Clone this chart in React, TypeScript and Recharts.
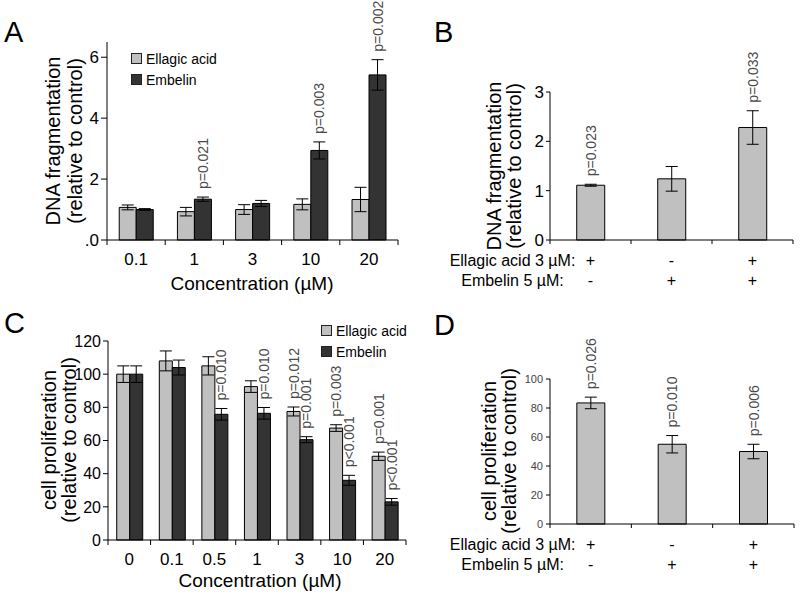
import { BarChart, Bar, XAxis, YAxis, ErrorBar, LabelList, Legend } from "recharts"

// ─── Styles ──────────────────────────────────────────────────────────────────
const FONT = "'Liberation Sans', Arial, Helvetica, sans-serif"
const ELL_FILL = "#c0c0c0"
const EMB_FILL = "#333333"
const P_COLOR = "#4a4a4a"

// ─── Panel A: DNA fragmentation vs concentration ─────────────────────────────
const concA = ["0.1", "1", "3", "10", "20"]
const fragEll = [1.07, 0.93, 1.0, 1.17, 1.33]
const fragEllErr = [0.08, 0.14, 0.16, 0.18, 0.4]
const fragEllP = [null, null, null, null, null]
const fragEmb = [1.0, 1.34, 1.2, 2.94, 5.42]
const fragEmbErr = [0.03, 0.07, 0.1, 0.28, 0.5]
const fragEmbP = [null, "p=0.021", null, "p=0.003", "p=0.002"]
const ticksA = [0, 2, 4, 6]

// ─── Panel B: DNA fragmentation, combination ─────────────────────────────────
const comboEllSign = ["+", "-", "+"]
const comboEmbSign = ["-", "+", "+"]
const fragCombo = [1.11, 1.24, 2.28]
const fragComboErr = [0.02, 0.25, 0.34]
const fragComboP = ["p=0.023", null, "p=0.033"]
const ticksB = [0, 1, 2, 3]

// ─── Panel C: proliferation vs concentration ─────────────────────────────────
const concC = ["0", "0.1", "0.5", "1", "3", "10", "20"]
const prolEll = [100, 108, 105, 92.5, 77.5, 67.5, 50.5]
const prolEllErr = [5, 6, 5.5, 3.5, 2.7, 2, 2.5]
const prolEllP = [null, null, null, null, "p=0.012", "p=0.003", "p=0.001"]
const prolEmb = [100, 104, 75.8, 76.4, 60.5, 36, 23]
const prolEmbErr = [5, 4.5, 3.5, 3.5, 1.8, 3, 2]
const prolEmbP = [null, null, "p=0.010", "p=0.010", "p=0.001", "p<0.001", "p<0.001"]
const ticksC = [0, 20, 40, 60, 80, 100, 120]

// ─── Panel D: proliferation, combination ─────────────────────────────────────
const prolCombo = [83.5, 55, 50]
const prolComboErr = [4, 6, 5]
const prolComboP = ["p=0.026", "p=0.010", "p=0.006"]
const ticksD = [0, 20, 40, 60, 80, 100]

const rowEllLabel = "Ellagic acid 3 µM:"
const rowEmbLabel = "Embelin 5 µM:"

const dataA = concA.map((c, i) => ({
  conc: c, ell: fragEll[i], ellErr: fragEllErr[i], ellP: fragEllP[i],
  emb: fragEmb[i], embErr: fragEmbErr[i], embP: fragEmbP[i],
}))
const dataC = concC.map((c, i) => ({
  conc: c, ell: prolEll[i], ellErr: prolEllErr[i], ellP: prolEllP[i],
  emb: prolEmb[i], embErr: prolEmbErr[i], embP: prolEmbP[i],
}))
const dataB = fragCombo.map((v, i) => ({ key: `b${i}`, v, err: fragComboErr[i], p: fragComboP[i] }))
const dataD = prolCombo.map((v, i) => ({ key: `d${i}`, v, err: prolComboErr[i], p: prolComboP[i] }))

// ─── p-value label above error bar, rotated ──────────────────────────────────
const pLabel = (vals: number[], errs: number[]) => (props: any) => {
  const { value, index } = props
  if (!value) return null
  const vb = props.viewBox && props.viewBox.width != null ? props.viewBox : props
  const { x, y, width, height } = vb
  const perUnit = Math.abs(height) / vals[index]
  const top = y - errs[index] * perUnit - 8
  const cx = x + width / 2 + 5
  return (
    <text x={cx} y={top} transform={`rotate(-90 ${cx} ${top})`} fontSize={14} fill={P_COLOR}>
      {value}
    </text>
  )
}

// ─── x ticks: label at centre, tick marks at category boundaries ─────────────
const catTick = (band: number, n: number) => (props: any) => {
  const { x, y, payload, index } = props
  const axisY = y - 8
  return (
    <g>
      <line x1={x - band / 2} x2={x - band / 2} y1={axisY} y2={axisY + 5} stroke="#000" />
      {index === n - 1 && <line x1={x + band / 2} x2={x + band / 2} y1={axisY} y2={axisY + 5} stroke="#000" />}
      <text x={x} y={y} dy={16.5} textAnchor="middle" fontSize={17} fill="#000">{payload.value}</text>
    </g>
  )
}

const signTick = (band: number, n: number) => (props: any) => {
  const { x, y, index } = props
  const axisY = y - 6
  return (
    <g fontSize={16} fill="#000">
      <line x1={x - band / 2} x2={x - band / 2} y1={axisY} y2={axisY + 4} stroke="#000" />
      {index === n - 1 && <line x1={x + band / 2} x2={x + band / 2} y1={axisY} y2={axisY + 4} stroke="#000" />}
      <text x={x} y={y + 20} textAnchor="middle">{comboEllSign[index]}</text>
      <text x={x} y={y + 40} textAnchor="middle">{comboEmbSign[index]}</text>
      {index === 0 && (
        <>
          <text x={x - 78} y={y + 20} textAnchor="middle">{rowEllLabel}</text>
          <text x={x - 78} y={y + 40} textAnchor="middle">{rowEmbLabel}</text>
        </>
      )}
    </g>
  )
}

const yTitle = (x1: number, cy: number, gap: number, lines: string[]) => () => (
  <text transform={`rotate(-90 ${x1} ${cy})`} x={x1} y={cy} textAnchor="middle" fontSize={20} fill="#000">
    <tspan x={x1} dy={0}>{lines[0]}</tspan>
    <tspan x={x1} dy={gap}>{lines[1]}</tspan>
  </text>
)

const xTitle = (cx: number, y: number) => () => (
  <text x={cx} y={y} textAnchor="middle" fontSize={19} fill="#000">Concentration (µM)</text>
)

function SwatchLegend(props: any) {
  const items = props.payload?.length
    ? props.payload
    : [{ value: "Ellagic acid", color: ELL_FILL }, { value: "Embelin", color: EMB_FILL }]
  return (
    <div style={{ fontSize: 14, fontFamily: FONT, color: "#000" }}>
      {items.map((it: any) => (
        <div key={it.value} style={{ display: "flex", alignItems: "center", height: 21, whiteSpace: "nowrap" }}>
          <span style={{ display: "inline-block", width: 9, height: 9, background: it.color, border: "1px solid #222", marginRight: 4 }} />
          {it.value}
        </div>
      ))}
    </div>
  )
}

const axisStroke = { stroke: "#000" }

export default function App() {
  return (
    <div style={{ position: "absolute", left: 0, top: 0, width: 800, height: 597, background: "#fff", fontFamily: FONT }}>
      {/* A */}
      <div style={{ position: "absolute", left: 0, top: 0 }}>
        <BarChart width={400} height={300} data={dataA} margin={{ top: 42, right: 2, bottom: 10, left: 0 }}
          barCategoryGap="21%" barGap={0}>
          <XAxis dataKey="conc" height={50} interval={0} tickSize={6} tickMargin={2} tickLine={false}
            axisLine={axisStroke} tick={catTick(291 / 5, 5)} label={xTitle(252, 290)} />
          <YAxis width={107} domain={[0, 6.5]} ticks={ticksA} interval={0} tickSize={6} tickMargin={2}
            tickFormatter={(v) => (v === 0 ? ".0" : String(v))}
            tick={{ fontSize: 17, fill: "#000" }} axisLine={axisStroke} tickLine={axisStroke}
            label={yTitle(60, 141, 22, ["DNA fragmentation", "(relative to control)"])} />
          <Legend content={SwatchLegend} layout="horizontal" verticalAlign="middle" align="center"
            wrapperStyle={{ left: 131, top: 48, width: "auto" }} />
          <Bar dataKey="ell" name="Ellagic acid" fill={ELL_FILL} stroke="#000" strokeWidth={1} isAnimationActive={false}>
            <ErrorBar dataKey="ellErr" width={6} stroke="#000" strokeWidth={1} direction="y" isAnimationActive={false} />
            <LabelList dataKey="ellP" content={pLabel(fragEll, fragEllErr)} />
          </Bar>
          <Bar dataKey="emb" name="Embelin" fill={EMB_FILL} stroke="#000" strokeWidth={1} isAnimationActive={false}>
            <ErrorBar dataKey="embErr" width={6} stroke="#000" strokeWidth={1} direction="y" isAnimationActive={false} />
            <LabelList dataKey="embP" content={pLabel(fragEmb, fragEmbErr)} />
          </Bar>
        </BarChart>
      </div>

      {/* B */}
      <div style={{ position: "absolute", left: 400, top: 0 }}>
        <BarChart width={400} height={300} data={dataB} margin={{ top: 92, right: 7, bottom: 10, left: 0 }}
          barCategoryGap="33%">
          <XAxis dataKey="key" height={50} interval={0} tickSize={4} tickMargin={2} tickLine={false}
            axisLine={axisStroke} tick={signTick(243 / 3, 3)} />
          <YAxis width={150} domain={[0, 3]} ticks={ticksB} interval={0} tickSize={4} tickMargin={2}
            tick={{ fontSize: 17, fill: "#000" }} axisLine={axisStroke} tickLine={axisStroke}
            label={yTitle(101, 166, 20, ["DNA fragmentation", "(relative to control)"])} />
          <Bar dataKey="v" fill={ELL_FILL} stroke="#000" strokeWidth={1} isAnimationActive={false}>
            <ErrorBar dataKey="err" width={6} stroke="#000" strokeWidth={1} direction="y" isAnimationActive={false} />
            <LabelList dataKey="p" content={pLabel(fragCombo, fragComboErr)} />
          </Bar>
        </BarChart>
      </div>

      {/* C */}
      <div style={{ position: "absolute", left: 0, top: 300 }}>
        <BarChart width={410} height={297} data={dataC} margin={{ top: 41, right: 4, bottom: 10, left: 0 }}
          barCategoryGap="20.5%" barGap={0}>
          <XAxis dataKey="conc" height={47} interval={0} tickSize={6} tickMargin={2} tickLine={false}
            axisLine={axisStroke} tick={catTick(298 / 7, 7)} label={xTitle(260, 287)} />
          <YAxis width={108} domain={[0, 120]} ticks={ticksC} interval={0} tickSize={5} tickMargin={2}
            tick={{ fontSize: 16, fill: "#000" }} axisLine={axisStroke} tickLine={axisStroke}
            label={yTitle(56, 140, 20, ["cell proliferation", "(relative to control)"])} />
          <Legend content={SwatchLegend} layout="horizontal" verticalAlign="middle" align="center"
            wrapperStyle={{ left: 321, top: 20, width: "auto" }} />
          <Bar dataKey="ell" name="Ellagic acid" fill={ELL_FILL} stroke="#000" strokeWidth={1} isAnimationActive={false}>
            <ErrorBar dataKey="ellErr" width={6} stroke="#000" strokeWidth={1} direction="y" isAnimationActive={false} />
            <LabelList dataKey="ellP" content={pLabel(prolEll, prolEllErr)} />
          </Bar>
          <Bar dataKey="emb" name="Embelin" fill={EMB_FILL} stroke="#000" strokeWidth={1} isAnimationActive={false}>
            <ErrorBar dataKey="embErr" width={6} stroke="#000" strokeWidth={1} direction="y" isAnimationActive={false} />
            <LabelList dataKey="embP" content={pLabel(prolEmb, prolEmbErr)} />
          </Bar>
        </BarChart>
      </div>

      {/* D */}
      <div style={{ position: "absolute", left: 400, top: 300 }}>
        <BarChart width={400} height={297} data={dataD} margin={{ top: 79, right: 6, bottom: 10, left: 0 }}
          barCategoryGap="33%">
          <XAxis dataKey="key" height={63} interval={0} tickSize={4} tickMargin={2} tickLine={false}
            axisLine={axisStroke} tick={signTick(244 / 3, 3)} />
          <YAxis width={150} domain={[0, 100]} ticks={ticksD} interval={0} tickSize={4} tickMargin={3}
            tick={{ fontSize: 11, fill: "#444" }} axisLine={axisStroke} tickLine={axisStroke}
            label={yTitle(96, 151, 20, ["cell proliferation", "(relative to control)"])} />
          <Bar dataKey="v" fill={ELL_FILL} stroke="#000" strokeWidth={1} isAnimationActive={false}>
            <ErrorBar dataKey="err" width={6} stroke="#000" strokeWidth={1} direction="y" isAnimationActive={false} />
            <LabelList dataKey="p" content={pLabel(prolCombo, prolComboErr)} />
          </Bar>
        </BarChart>
      </div>

      {/* panel letters */}
      <svg width={800} height={597} style={{ position: "absolute", left: 0, top: 0, pointerEvents: "none" }}>
        <g fontSize={29} fill="#000">
          <text x={4} y={42}>A</text>
          <text x={434} y={42}>B</text>
          <text x={4} y={333}>C</text>
          <text x={434} y={335}>D</text>
        </g>
      </svg>
    </div>
  )
}
